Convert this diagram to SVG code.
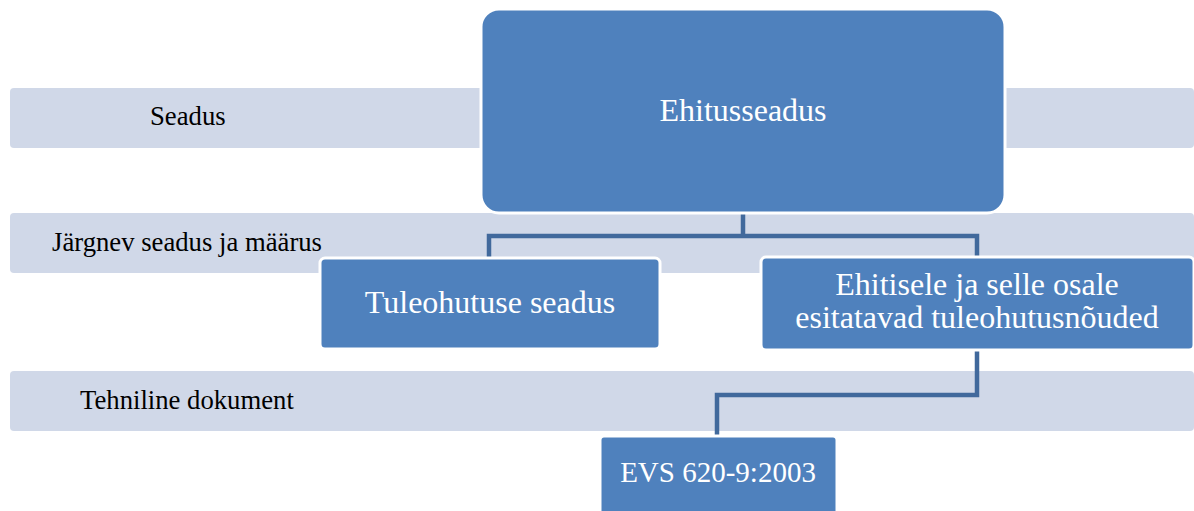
<svg xmlns="http://www.w3.org/2000/svg" width="1194" height="511" viewBox="0 0 1194 511">
<style>
.band{fill:#d0d8e8}
.lbl{font-family:"Liberation Serif","Times New Roman",serif;font-size:26.7px;fill:#000}
.box{fill:#4f81bd;stroke:#fff;stroke-width:3}
.txt{font-family:"Liberation Serif","Times New Roman",serif;font-size:32px;fill:#fff;text-anchor:middle}
.conn{fill:none;stroke:#41699c;stroke-width:4.5;stroke-linejoin:miter}
</style>
<rect width="1194" height="511" fill="#fff"/>
<g id="band-seadus">
<rect class="band" x="10" y="88" width="1184" height="60" rx="4"/>
<text class="lbl" x="150" y="125">Seadus</text>
</g>
<g id="band-jargnev">
<rect class="band" x="10" y="213" width="1184" height="60" rx="4"/>
<text class="lbl" x="52" y="251">Järgnev seadus ja määrus</text>
</g>
<g id="band-tehniline">
<rect class="band" x="10" y="371" width="1184" height="60" rx="4"/>
<text class="lbl" x="80" y="409">Tehniline dokument</text>
</g>
<g id="connectors">
<path class="conn" d="M743 212 V236 M489 258 V236 H977 V258"/>
<path class="conn" d="M977 350 V395 H717 V436"/>
</g>
<g id="node-ehitusseadus">
<rect class="box" x="481" y="9" width="524" height="204" rx="18"/>
<text class="txt" x="743" y="121">Ehitusseadus</text>
</g>
<g id="node-tuleohutuse">
<rect class="box" x="320" y="258" width="340" height="91" rx="5"/>
<text class="txt" x="490" y="313">Tuleohutuse seadus</text>
</g>
<g id="node-ehitisele">
<rect class="box" x="761" y="257" width="433" height="93" rx="5"/>
<text class="txt" x="977" y="295">Ehitisele ja selle osale</text>
<text class="txt" x="977" y="328">esitatavad tuleohutusnõuded</text>
</g>
<g id="node-evs">
<rect class="box" x="600" y="436" width="237" height="80" rx="4"/>
<text class="txt" x="718" y="482" style="font-size:29px">EVS 620-9:2003</text>
</g>
</svg>
